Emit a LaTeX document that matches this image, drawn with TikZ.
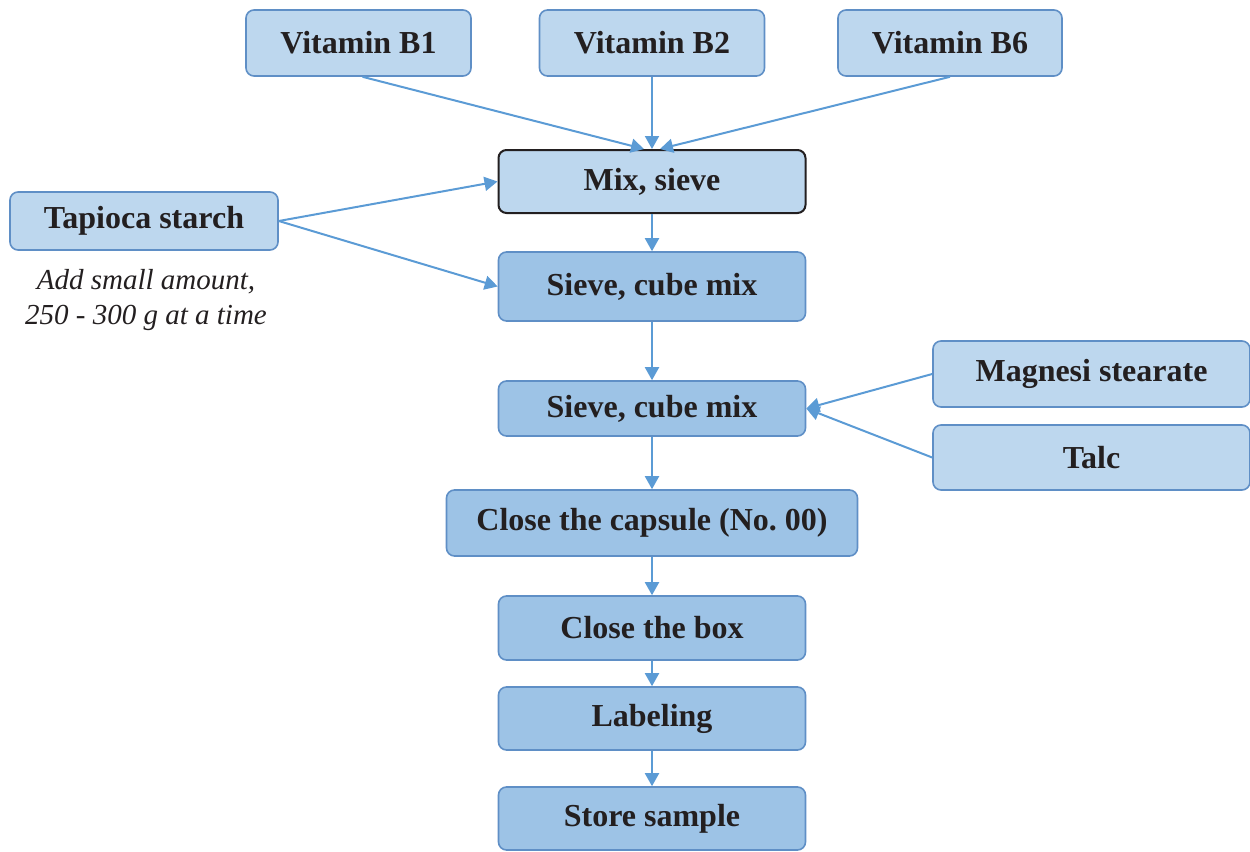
\documentclass[tikz,border=0pt]{standalone}
\usepackage{fontspec}
\setmainfont{Liberation Serif}
\usetikzlibrary{arrows.meta}
\definecolor{lightfill}{HTML}{BDD7EE}
\definecolor{darkfill}{HTML}{9DC3E6}
\definecolor{boxline}{HTML}{5F8FC6}
\definecolor{arrowc}{HTML}{5B9BD5}
\definecolor{txt}{HTML}{231F20}
\tikzset{
  basebox/.style={rectangle, rounded corners=4pt, draw=boxline, line width=0.8pt,
    font=\fontsize{16}{19}\selectfont\bfseries, text=txt, inner sep=0pt},
  lbox/.style={basebox, fill=lightfill},
  dbox/.style={basebox, fill=darkfill},
  mixbox/.style={basebox, fill=lightfill, draw=txt, line width=1pt},
  conn/.style={draw=arrowc, line width=1pt, -{Triangle[length=6.5pt,width=7pt]}},
  note/.style={font=\fontsize{14.5}{17.5}\selectfont\itshape, text=txt, align=center, inner sep=0pt}
}
\begin{document}
\begin{tikzpicture}[x=0.5pt,y=-0.5pt]
\useasboundingbox (0,0) rectangle (1250,852);
% top ingredients
\node[lbox, minimum width=112.5pt, minimum height=33pt] (b1) at (358.5,43) {Vitamin B1};
\node[lbox, minimum width=112.5pt, minimum height=33pt] (b2) at (652,43) {Vitamin B2};
\node[lbox, minimum width=112pt, minimum height=33pt] (b6) at (950,43) {Vitamin B6};
% process
\node[mixbox, minimum width=153.5pt, minimum height=31.5pt] (mix) at (652,181.5) {Mix, sieve};
\node[lbox, minimum width=134pt, minimum height=29pt] (tap) at (144,221) {Tapioca starch};
\node[note] (nt) at (146,300) {Add small amount,\\250 - 300 g at a time};
\node[dbox, minimum width=153.5pt, minimum height=34.5pt] (s1) at (652,286.5) {Sieve, cube mix};
\node[dbox, minimum width=153.5pt, minimum height=27.5pt] (s2) at (652,408.5) {Sieve, cube mix};
\node[lbox, minimum width=158.5pt, minimum height=33pt] (mg) at (1091.5,374) {Magnesi stearate};
\node[lbox, minimum width=158.5pt, minimum height=32.5pt] (tc) at (1091.5,457.5) {Talc};
\node[dbox, minimum width=205.5pt, minimum height=33pt] (cap) at (652,523) {Close the capsule (No.\ 00)};
\node[dbox, minimum width=153.5pt, minimum height=32pt] (cb) at (652,628) {Close the box};
\node[dbox, minimum width=153.5pt, minimum height=31.5pt] (lab) at (652,718.5) {Labeling};
\node[dbox, minimum width=153.5pt, minimum height=31.5pt] (st) at (652,818.5) {Store sample};
% connectors
\draw[conn] ([xshift=2pt]b1.south) -- ([xshift=-4pt]mix.north);
\draw[conn] (b2.south) -- (mix.north);
\draw[conn] (b6.south) -- ([xshift=4pt]mix.north);
\draw[conn] (tap.east) -- (mix.west);
\draw[conn] (tap.east) -- (s1.west);
\draw[conn] (mix.south) -- (s1.north);
\draw[conn] (s1.south) -- (s2.north);
\draw[conn] (mg.west) -- (s2.east);
\draw[conn] (tc.west) -- (s2.east);
\draw[conn] (s2.south) -- (cap.north);
\draw[conn] (cap.south) -- (cb.north);
\draw[conn] (cb.south) -- (lab.north);
\draw[conn] (lab.south) -- (st.north);
\end{tikzpicture}
\end{document}
